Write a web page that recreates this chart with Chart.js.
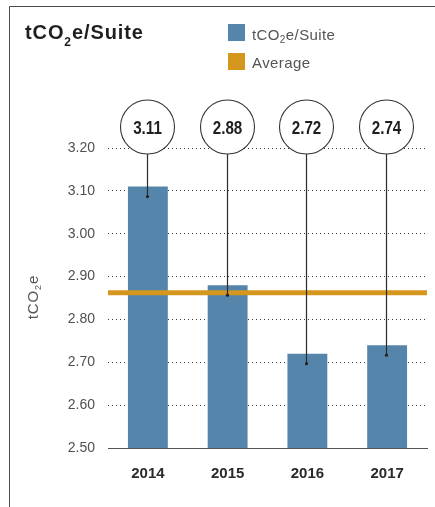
<!DOCTYPE html>
<html>
<head>
<meta charset="utf-8">
<script src="https://cdn.jsdelivr.net/npm/chart.js@4/dist/chart.umd.min.js"></script>
<style>
  html, body { margin: 0; padding: 0; background: #ffffff; }
  #wrap { width: 435px; height: 507px; position: relative; }
</style>
</head>
<body>
<div id="wrap"><canvas id="chart" width="435" height="507"></canvas></div>
<script>
// Emissions intensity per suite, by year
const years = ['2014', '2015', '2016', '2017'];
const emissions = [3.11, 2.88, 2.72, 2.74];
const calloutLabels = ['3.11', '2.88', '2.72', '2.74'];
const yMin = 2.5;
const yMax = 3.2;
const yStep = 0.1;

const average = emissions.reduce((a, b) => a + b, 0) / emissions.length;

const BLUE = '#5585aa';
const GOLD = '#d4961c';
const FONT = '"Liberation Sans", Arial, Helvetica, sans-serif';

// Draw text runs where a run may be a lowered subscript
function drawRuns(ctx, runs, x, y, opts) {
  ctx.save();
  ctx.textBaseline = 'alphabetic';
  ctx.textAlign = 'left';
  if (opts.spacing !== undefined) ctx.letterSpacing = opts.spacing + 'px';
  let total = 0;
  runs.forEach(r => {
    ctx.font = (opts.weight || 'normal') + ' ' + (r.sub ? opts.subSize : opts.size) + 'px ' + FONT;
    total += ctx.measureText(r.t).width;
  });
  let cx = opts.align === 'center' ? x - total / 2 : x;
  runs.forEach(r => {
    ctx.font = (opts.weight || 'normal') + ' ' + (r.sub ? opts.subSize : opts.size) + 'px ' + FONT;
    ctx.fillStyle = opts.color;
    ctx.fillText(r.t, cx, y + (r.sub ? opts.subDrop : 0));
    cx += ctx.measureText(r.t).width;
  });
  ctx.restore();
}

const co2Runs = (tail) => [{ t: 'tCO' }, { t: '2', sub: true }, { t: tail }];

const decorations = {
  id: 'decorations',
  beforeDraw(chart) {
    const ctx = chart.ctx;
    ctx.save();
    // frame lines along the top and left edge
    ctx.strokeStyle = '#4a4a4a';
    ctx.lineWidth = 1;
    ctx.beginPath();
    ctx.moveTo(9.5, 507);
    ctx.lineTo(9.5, 6.5);
    ctx.lineTo(435, 6.5);
    ctx.stroke();
    ctx.restore();

    // title
    drawRuns(ctx, co2Runs('e/Suite'), 25, 39, {
      weight: 'bold', size: 20, subSize: 12, subDrop: 7, color: '#1f1f1f', spacing: 0.9
    });

    // legend
    ctx.save();
    ctx.fillStyle = BLUE;
    ctx.fillRect(228, 24, 17, 17);
    ctx.fillStyle = GOLD;
    ctx.fillRect(228, 53, 17, 17);
    ctx.restore();
    drawRuns(ctx, co2Runs('e/Suite'), 252, 40, {
      size: 15, subSize: 10, subDrop: 3, color: '#555555', spacing: 0.4
    });
    drawRuns(ctx, [{ t: 'Average' }], 252, 68, {
      size: 15, subSize: 10, subDrop: 3, color: '#555555', spacing: 0.4
    });

    // y axis title, rotated
    ctx.save();
    ctx.translate(38, 297);
    ctx.rotate(-Math.PI / 2);
    drawRuns(ctx, co2Runs('e'), 0, 0, {
      size: 15, subSize: 9, subDrop: 3, color: '#555555', align: 'center', spacing: 0.9
    });
    ctx.restore();
  },
  afterDraw(chart) {
    const ctx = chart.ctx;
    const area = chart.chartArea;
    const y = chart.scales.y;
    const meta = chart.getDatasetMeta(0);

    // average line across the plot
    const ay = y.getPixelForValue(average);
    ctx.save();
    ctx.strokeStyle = GOLD;
    ctx.lineWidth = 5;
    ctx.beginPath();
    ctx.moveTo(area.left, ay);
    ctx.lineTo(area.right, ay);
    ctx.stroke();
    ctx.restore();

    // callout bubbles with leader lines into each bar
    const cy = 127, r = 27;
    meta.data.forEach((bar, i) => {
      const bx = Math.round(bar.x) - 0.5;
      const dotY = bar.y + 10;
      ctx.save();
      ctx.strokeStyle = '#2a2a2a';
      ctx.lineWidth = 1.2;
      ctx.beginPath();
      ctx.moveTo(bx, cy + r);
      ctx.lineTo(bx, dotY);
      ctx.stroke();
      ctx.fillStyle = '#222222';
      ctx.beginPath();
      ctx.arc(bx, dotY, 1.6, 0, Math.PI * 2);
      ctx.fill();

      ctx.fillStyle = '#ffffff';
      ctx.strokeStyle = '#333333';
      ctx.lineWidth = 1.1;
      ctx.beginPath();
      ctx.arc(bx, cy, r, 0, Math.PI * 2);
      ctx.fill();
      ctx.stroke();

      ctx.translate(bx, cy + 7);
      ctx.scale(0.8, 1);
      ctx.font = 'bold 19px ' + FONT;
      ctx.fillStyle = '#1f1f1f';
      ctx.textAlign = 'center';
      ctx.textBaseline = 'alphabetic';
      ctx.fillText(calloutLabels[i], 0, 0);
      ctx.restore();
    });
  }
};

new Chart(document.getElementById('chart'), {
  type: 'bar',
  data: {
    labels: years,
    datasets: [{
      label: 'tCO₂e/Suite',
      data: emissions,
      backgroundColor: BLUE,
      borderWidth: 0,
      categoryPercentage: 1,
      barPercentage: 0.5
    }]
  },
  options: {
    responsive: false,
    animation: false,
    devicePixelRatio: 1,
    layout: { padding: { top: 148, right: 8, left: 0, bottom: 0 } },
    plugins: {
      legend: { display: false },
      tooltip: { enabled: false },
      title: { display: false }
    },
    scales: {
      x: {
        z: 1,
        grid: { display: false, drawTicks: false },
        border: { display: true, color: '#555555', width: 1 },
        ticks: {
          color: '#2a2a2a',
          padding: 17,
          font: { family: FONT, size: 15, weight: 'bold' }
        },
        afterFit(scale) { scale.height = 59; }
      },
      y: {
        z: 1,
        min: yMin,
        max: yMax,
        grid: {
          drawTicks: false,
          color: (c) => (c.tick && c.tick.value === yMin ? 'rgba(0,0,0,0)' : '#3a3a3a'),
          lineWidth: 1
        },
        border: { display: false, dash: [1, 3] },
        ticks: {
          stepSize: yStep,
          color: '#505050',
          padding: 13,
          font: { family: FONT, size: 14 },
          callback: (v) => Number(v).toFixed(2)
        },
        afterFit(scale) { scale.width = 108; }
      }
    }
  },
  plugins: [decorations]
});
</script>
</body>
</html>
